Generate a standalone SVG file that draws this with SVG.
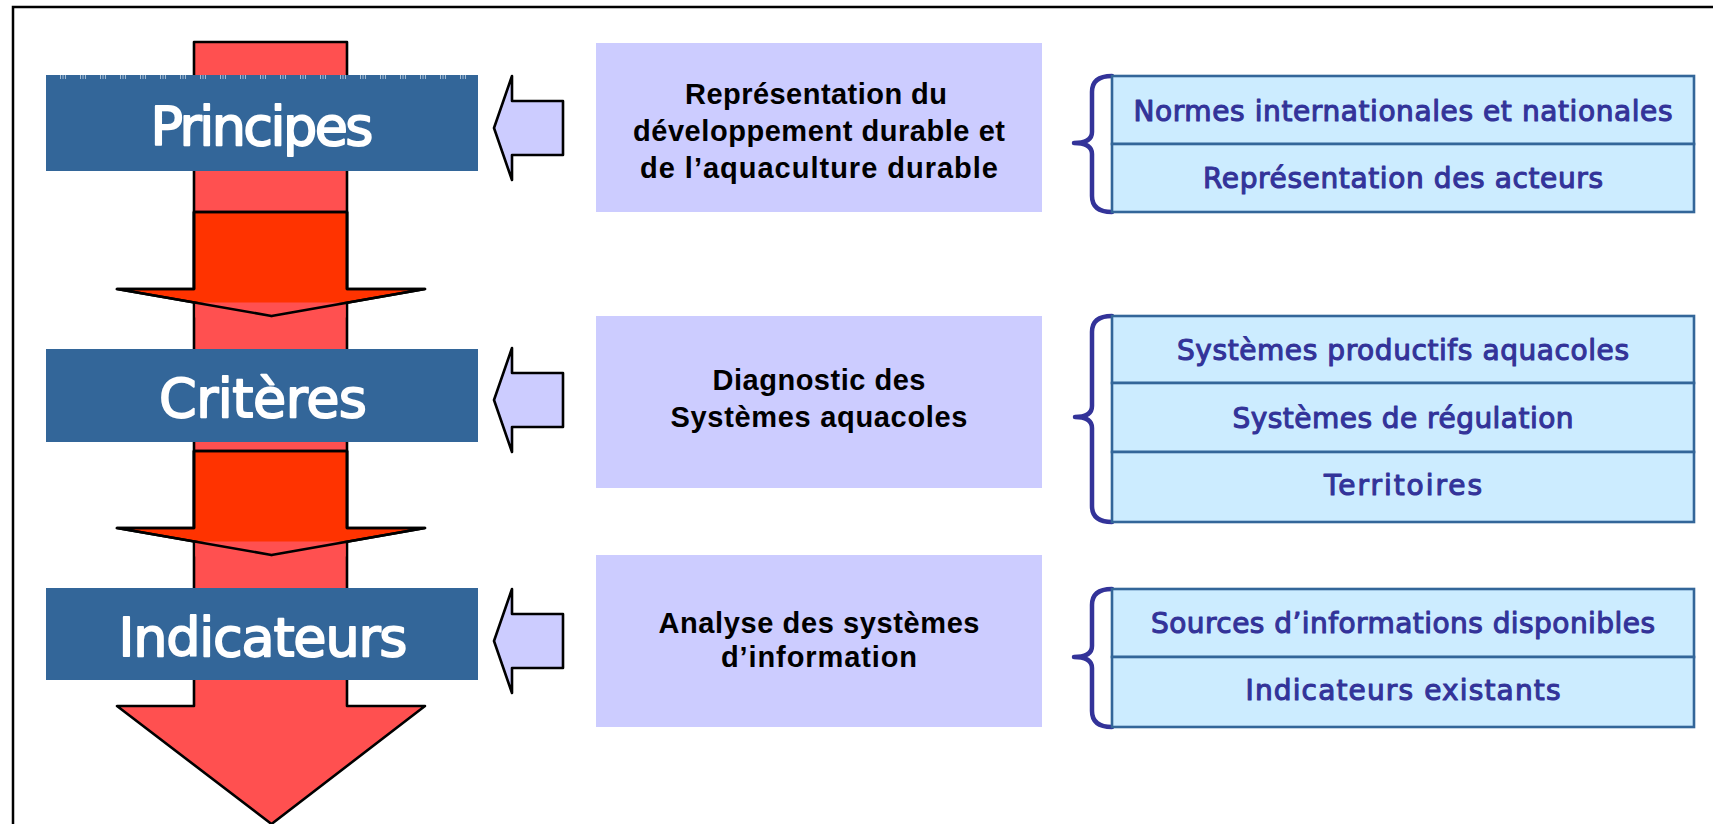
<svg xmlns="http://www.w3.org/2000/svg" width="1713" height="824" viewBox="0 0 1713 824">
<style>
.frame{fill:none;stroke:#000;stroke-width:2.5}
.light{fill:#FF5050;stroke:#000;stroke-width:2.6;stroke-linejoin:round}
.dark{fill:#FF3300;stroke:#000;stroke-width:2.6;stroke-linejoin:round}
.outline{fill:none;stroke:#000;stroke-width:2.6;stroke-linejoin:round}
.cover{fill:#FF5050}
.blue{fill:#336699}
.tex{fill:none;stroke:#ffffff;stroke-width:4;stroke-dasharray:1 1.5 1 1.5 1 14;opacity:0.55}
.lbl{font-family:"DejaVu Sans","Liberation Sans",sans-serif;font-size:54px;fill:#fff;stroke:#fff;stroke-width:1.8;stroke-linejoin:round;text-anchor:middle}
.larrow{fill:#CCCCFF;stroke:#000;stroke-width:2.6;stroke-linejoin:round}
.lav{fill:#CCCCFF}
.lt{font-family:"Liberation Sans",Arial,sans-serif;font-weight:bold;font-size:29px;fill:#000;text-anchor:middle}
.cell{fill:#CCECFF;stroke:#336699;stroke-width:2.6}
.brace{fill:none;stroke:#333399;stroke-width:4.5;stroke-linecap:round;stroke-linejoin:round}
.rt{font-family:"DejaVu Sans","Liberation Sans",sans-serif;font-size:28px;fill:#333399;stroke:#333399;stroke-width:1.1;stroke-linejoin:round;text-anchor:middle}
</style>

<path class="frame" d="M13 830 L13 7 L1720 7"/>

<g id="main-arrow">
  <path class="light" d="M194 42 L347 42 L347 706 L425 706 L271.5 824 L117 706 L194 706 Z"/>
</g>

<g id="arrow-step-1">
  <path class="dark" d="M194 212 L347 212 L347 289 L425 289 L271.5 316 L117 289 L194 289 Z"/>
  <rect class="cover" x="195.4" y="302.5" width="150.2" height="15"/>
  <path class="outline" d="M194 212 L347 212 L347 289 L425 289 L271.5 316 L117 289 L194 289 Z"/>
</g>

<g id="arrow-step-2">
  <path class="dark" d="M194 451 L347 451 L347 528 L425 528 L271.5 555 L117 528 L194 528 Z"/>
  <rect class="cover" x="195.4" y="541.5" width="150.2" height="15"/>
  <path class="outline" d="M194 451 L347 451 L347 528 L425 528 L271.5 555 L117 528 L194 528 Z"/>
</g>

<g id="principes">
  <rect class="blue" x="46" y="75" width="432" height="96"/>
  <line class="tex" x1="60" y1="77" x2="470" y2="77"/>
  <text class="lbl" x="262" y="145" textLength="223" lengthAdjust="spacing">Principes</text>
</g>

<g id="criteres">
  <rect class="blue" x="46" y="349" width="432" height="93"/>
  <text class="lbl" x="263" y="417" textLength="208" lengthAdjust="spacing">Critères</text>
</g>

<g id="indicateurs">
  <rect class="blue" x="46" y="588" width="432" height="92"/>
  <text class="lbl" x="263" y="656" textLength="289" lengthAdjust="spacing">Indicateurs</text>
</g>

<g id="connectors">
  <path class="larrow" d="M494 128 L512 76 L512 101 L563 101 L563 155 L512 155 L512 180 Z"/>
  <path class="larrow" d="M494 400 L512 348 L512 373 L563 373 L563 427 L512 427 L512 452 Z"/>
  <path class="larrow" d="M494 641 L512 589 L512 614 L563 614 L563 668 L512 668 L512 693 Z"/>
  <path class="brace" d="M1112 76 Q1092 76 1092 92 L1092 132 Q1092 143 1074 143 Q1092 143 1092 154 L1092 196 Q1092 212 1112 212"/>
  <path class="brace" d="M1112 316 Q1092 316 1092 332 L1092 406 Q1092 417 1075 417 Q1092 417 1092 428 L1092 506 Q1092 522 1112 522"/>
  <path class="brace" d="M1112 589 Q1092 589 1092 605 L1092 646 Q1092 657 1074 657 Q1092 657 1092 668 L1092 711 Q1092 727 1112 727"/>
</g>

<g id="representation">
  <rect class="lav" x="596" y="43" width="446" height="169"/>
  <text class="lt" x="816" y="104" textLength="262" lengthAdjust="spacing">Représentation du</text>
  <text class="lt" x="819" y="141" textLength="372" lengthAdjust="spacing">développement durable et</text>
  <text class="lt" x="819" y="178" textLength="358" lengthAdjust="spacing">de l’aquaculture durable</text>
</g>

<g id="diagnostic">
  <rect class="lav" x="596" y="316" width="446" height="172"/>
  <text class="lt" x="819" y="390" textLength="213" lengthAdjust="spacing">Diagnostic des</text>
  <text class="lt" x="819" y="427" textLength="297" lengthAdjust="spacing">Systèmes aquacoles</text>
</g>

<g id="analyse">
  <rect class="lav" x="596" y="555" width="446" height="172"/>
  <text class="lt" x="819" y="633" textLength="321" lengthAdjust="spacing">Analyse des systèmes</text>
  <text class="lt" x="819" y="667" textLength="196" lengthAdjust="spacing">d’information</text>
</g>

<g id="sources-1">
  <rect class="cell" x="1112" y="76" width="582" height="68"/>
  <rect class="cell" x="1112" y="144" width="582" height="68"/>
  <text class="rt" x="1403" y="121" textLength="539" lengthAdjust="spacing">Normes internationales et nationales</text>
  <text class="rt" x="1403" y="188" textLength="400" lengthAdjust="spacing">Représentation des acteurs</text>
</g>

<g id="sources-2">
  <rect class="cell" x="1112" y="316" width="582" height="67"/>
  <rect class="cell" x="1112" y="383" width="582" height="69"/>
  <rect class="cell" x="1112" y="452" width="582" height="70"/>
  <text class="rt" x="1403" y="360" textLength="452" lengthAdjust="spacing">Systèmes productifs aquacoles</text>
  <text class="rt" x="1403" y="428" textLength="341" lengthAdjust="spacing">Systèmes de régulation</text>
  <text class="rt" x="1403" y="495" textLength="158" lengthAdjust="spacing">Territoires</text>
</g>

<g id="sources-3">
  <rect class="cell" x="1112" y="589" width="582" height="68"/>
  <rect class="cell" x="1112" y="657" width="582" height="70"/>
  <text class="rt" x="1403" y="633" textLength="504" lengthAdjust="spacing">Sources d’informations disponibles</text>
  <text class="rt" x="1403" y="700" textLength="315" lengthAdjust="spacing">Indicateurs existants</text>
</g>
</svg>
